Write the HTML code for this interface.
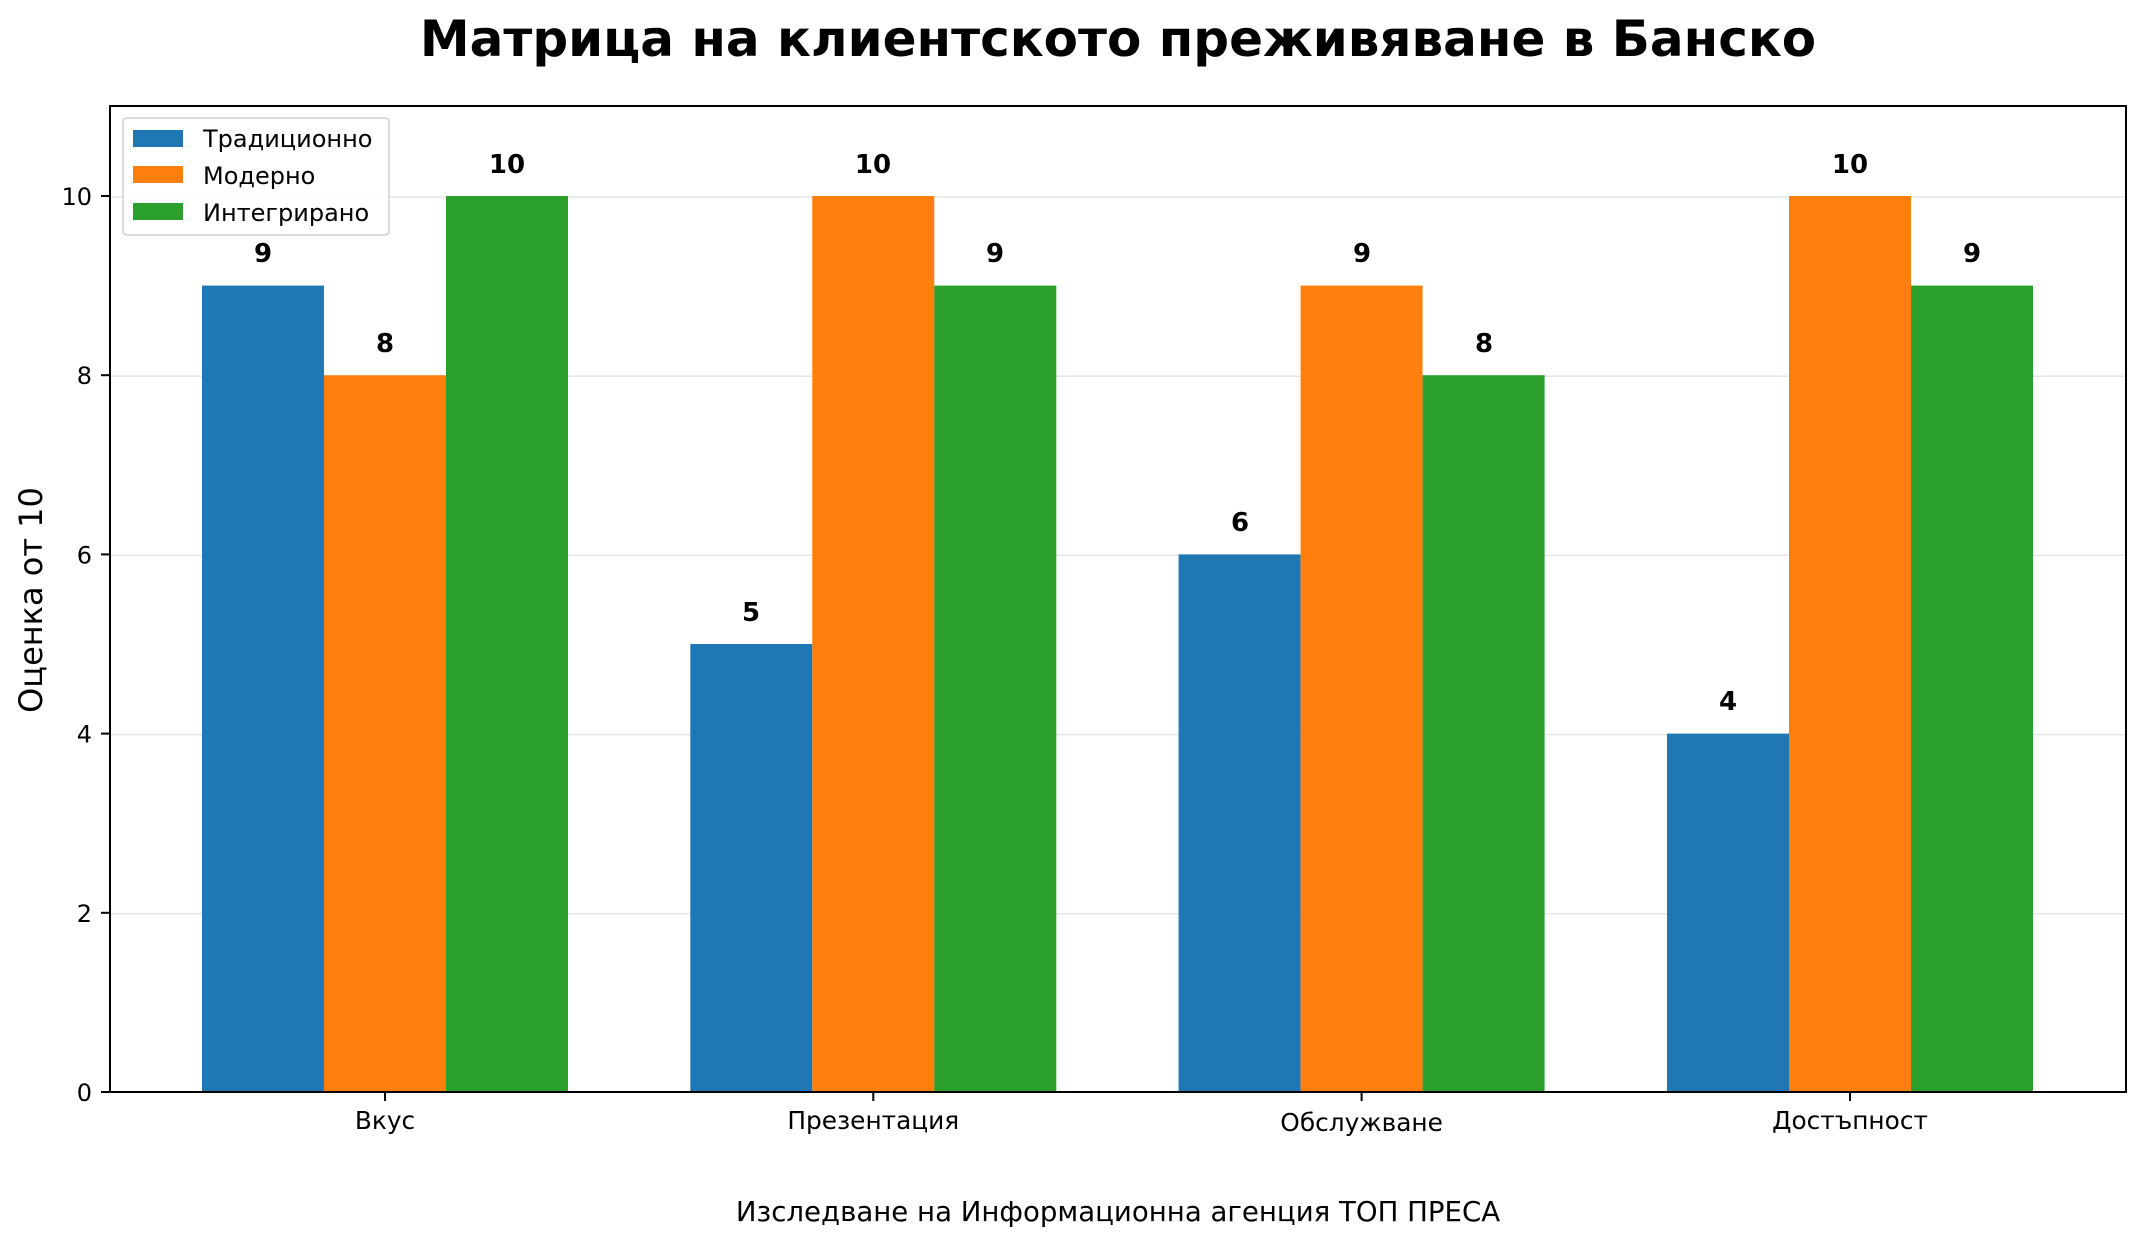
<!DOCTYPE html>
<html><head><meta charset="utf-8"><style>html,body{margin:0;padding:0;background:#fff}svg{display:block}</style></head><body>
<svg width="2141" height="1244" viewBox="0 0 2141 1244" xmlns="http://www.w3.org/2000/svg" font-family="'DejaVu Sans','Liberation Sans',sans-serif">
<rect width="2141" height="1244" fill="#fff"/>
<text x="1118" y="56" text-anchor="middle" font-size="50" font-weight="bold">Матрица на клиентското преживяване в Банско</text>
<g stroke="#e6e6e6" stroke-width="1.5">
<line x1="110" x2="2126" y1="913.8" y2="913.8"/>
<line x1="110" x2="2126" y1="734.6" y2="734.6"/>
<line x1="110" x2="2126" y1="555.4" y2="555.4"/>
<line x1="110" x2="2126" y1="376.2" y2="376.2"/>
<line x1="110" x2="2126" y1="197" y2="197"/>
</g>
<g>
<rect x="202" y="285.6" width="122" height="806.4" fill="#1f77b4"/>
<rect x="324" y="375.2" width="122" height="716.8" fill="#ff7f0e"/>
<rect x="446" y="196" width="122" height="896" fill="#2ca02c"/>
<rect x="690.3" y="644" width="122" height="448" fill="#1f77b4"/>
<rect x="812.3" y="196" width="122" height="896" fill="#ff7f0e"/>
<rect x="934.3" y="285.6" width="122" height="806.4" fill="#2ca02c"/>
<rect x="1178.6" y="554.4" width="122" height="537.6" fill="#1f77b4"/>
<rect x="1300.6" y="285.6" width="122" height="806.4" fill="#ff7f0e"/>
<rect x="1422.6" y="375.2" width="122" height="716.8" fill="#2ca02c"/>
<rect x="1667" y="733.6" width="122" height="358.4" fill="#1f77b4"/>
<rect x="1789" y="196" width="122" height="896" fill="#ff7f0e"/>
<rect x="1911" y="285.6" width="122" height="806.4" fill="#2ca02c"/>
</g>
<g font-size="26" font-weight="bold" text-anchor="middle">
<text x="263" y="262">9</text><text x="385" y="352">8</text><text x="507" y="173">10</text>
<text x="751" y="621">5</text><text x="873" y="173">10</text><text x="995" y="262">9</text>
<text x="1240" y="531">6</text><text x="1362" y="262">9</text><text x="1484" y="352">8</text>
<text x="1728" y="710">4</text><text x="1850" y="173">10</text><text x="1972" y="262">9</text>
</g>
<rect x="110" y="106" width="2016" height="986" fill="none" stroke="#000" stroke-width="2"/>
<g stroke="#000" stroke-width="2">
<line x1="101" x2="110" y1="1092" y2="1092"/><line x1="101" x2="110" y1="912.8" y2="912.8"/><line x1="101" x2="110" y1="733.6" y2="733.6"/><line x1="101" x2="110" y1="554.4" y2="554.4"/><line x1="101" x2="110" y1="375.2" y2="375.2"/><line x1="101" x2="110" y1="196" y2="196"/>
<line x1="385" x2="385" y1="1092" y2="1101"/><line x1="873.3" x2="873.3" y1="1092" y2="1101"/><line x1="1361.6" x2="1361.6" y1="1092" y2="1101"/><line x1="1850" x2="1850" y1="1092" y2="1101"/>
</g>
<g font-size="24" text-anchor="end">
<text x="92" y="1101">0</text><text x="92" y="921.8">2</text><text x="92" y="742.6">4</text><text x="92" y="563.4">6</text><text x="92" y="384.2">8</text><text x="92" y="205">10</text>
</g>
<g font-size="24.8" text-anchor="middle">
<text x="385" y="1129">Вкус</text><text x="873.3" y="1129">Презентация</text><text x="1361.6" y="1131">Обслужване</text><text x="1850" y="1129">Достъпност</text>
</g>
<text transform="translate(42,600) rotate(-90)" font-size="32" text-anchor="middle">Оценка от 10</text>
<text x="1118" y="1221" font-size="27.6" text-anchor="middle">Изследване на Информационна агенция ТОП ПРЕСА</text>
<rect x="123" y="118" width="266" height="117" rx="4" fill="#fff" fill-opacity="0.8" stroke="#d0d0d0" stroke-width="1.5"/>
<rect x="133" y="130" width="50" height="17" fill="#1f77b4"/>
<rect x="133" y="166" width="50" height="17" fill="#ff7f0e"/>
<rect x="133" y="203" width="50" height="17" fill="#2ca02c"/>
<g font-size="24"><text x="203" y="147">Традиционно</text><text x="203" y="184">Модерно</text><text x="203" y="221">Интегрирано</text></g>
</svg>
</body></html>
